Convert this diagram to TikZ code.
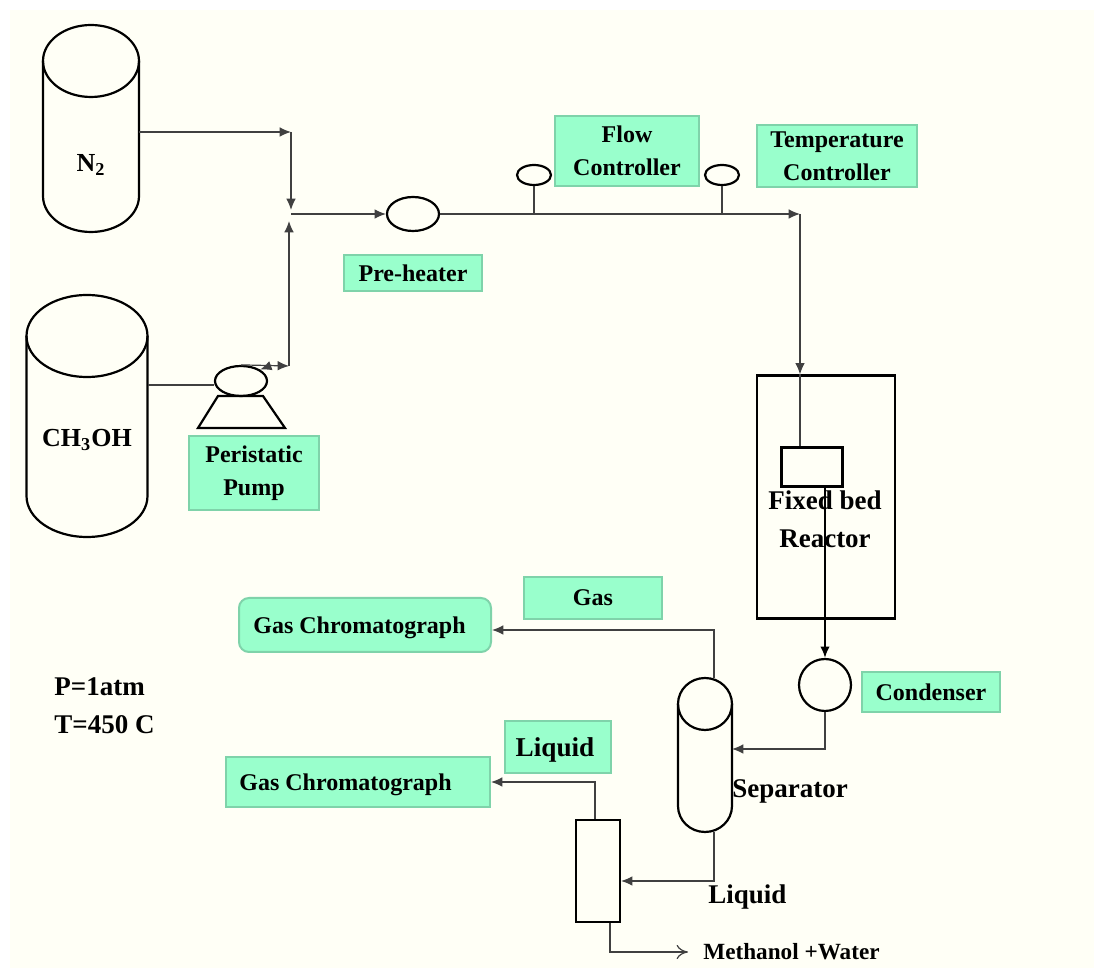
\documentclass[tikz,border=0pt]{standalone}
\usepackage{fontspec}
\setmainfont{Liberation Serif}
\usepackage{xcolor}
\usetikzlibrary{arrows.meta,shapes.geometric}
\definecolor{paper}{HTML}{FFFFF6}
\definecolor{tagfill}{HTML}{99FFCC}
\definecolor{tagedge}{HTML}{7FD3AA}
\newcommand{\tankshell}[5]{%
  \draw[vessel] (#1,{#2+#5}) ellipse [x radius=#4,y radius=#5];
  \draw[vessel] ({#1-#4},{#2+#5}) -- ({#1-#4},{#3-#5})
    arc [start angle=180,end angle=0,x radius=#4,y radius=#5] -- ({#1+#4},{#2+#5});
}

\begin{document}
\begin{tikzpicture}[
  x=0.5pt,y=-0.5pt,
  tag/.style={draw=tagedge,line width=1pt,fill=tagfill,font=\bfseries\fontsize{12}{16.5}\selectfont,
              align=center,inner sep=0pt},
  bare/.style={font=\bfseries\fontsize{13.5}{19}\selectfont,align=center,inner sep=0pt},
  vessel/.style={draw,line width=1.1pt,inner sep=0pt},
  flow/.style={-{Latex[length=2mm,width=1.7mm]},line width=0.6pt,black!75},
  pipe/.style={line width=0.6pt,black!75}
]
\fill[white] (0,0) rectangle (1094,972);
\fill[paper] (10,10) rectangle (1094,968);
% tanks and vessels
\tankshell{91}{25}{232}{48}{36}
\tankshell{87}{295}{537}{60.5}{41}
\tankshell{705}{678}{832}{27}{26}
\node[bare,font=\bfseries\fontsize{13}{15}\selectfont] (nitrogen) at (91,165) {N\textsubscript{2}};
\node[bare,font=\bfseries\fontsize{13}{15}\selectfont] (methanol) at (87,440) {CH\textsubscript{3}OH};
\node[minimum width=27pt,minimum height=77pt,inner sep=0pt] (separator) at (705,755) {};
\node[vessel,ellipse,minimum width=26pt,minimum height=17pt] (heater) at (413,214) {};
\node[vessel,ellipse,minimum width=17pt,minimum height=10pt] (gaugea) at (534,175) {};
\node[vessel,ellipse,minimum width=17pt,minimum height=10pt] (gaugeb) at (722,175) {};
\node[vessel,ellipse,minimum width=26pt,minimum height=15pt] (pump) at (241,381) {};
\draw[vessel] (218,396) -- (263,396) -- (285,428) -- (198,428) -- cycle;
\node[vessel,minimum width=69pt,minimum height=121.5pt] (reactor) at (826,497) {};
\node[vessel,minimum width=30.5pt,minimum height=19.5pt] (bed) at (812,467) {};
\node[vessel,circle,minimum size=26pt] (condenser) at (825,685) {};
\node[vessel,minimum width=22pt,minimum height=51pt] (trap) at (598,871) {};
% labels
\node[bare] (reactortext) at (825,519) {Fixed bed\\Reactor};
\node[tag,minimum width=69pt,minimum height=18pt] (heatertag) at (413,273) {Pre-heater};
\node[tag,minimum width=72pt,minimum height=35pt] (flowtag) at (627,151) {Flow\\Controller};
\node[tag,minimum width=80pt,minimum height=31pt] (temptag) at (837,156) {Temperature\\Controller};
\node[tag,minimum width=65pt,minimum height=37pt] (pumptag) at (254,473) {Peristatic\\Pump};
\node[tag,minimum width=69pt,minimum height=21pt] (gastag) at (593,598) {Gas};
\node[tag,minimum width=53pt,minimum height=26pt,text depth=0pt,font=\bfseries\fontsize{13.6}{16}\selectfont] (liquidtag) at (558,747) {Liquid\hspace*{3pt}};
\node[tag,rounded corners=5pt,minimum width=126pt,minimum height=27pt,text depth=0pt] (gcgas) at (365,625) {Gas Chromatograph\hspace*{5.5pt}};
\node[tag,minimum width=132pt,minimum height=25pt,text depth=0pt] (gcliquid) at (358,782) {Gas Chromatograph\hspace*{12.5pt}};
\node[tag,minimum width=69pt,minimum height=20pt] (condensertag) at (931,692) {Condenser};
\node[bare,anchor=west] (sepname) at (732,791) {Separator};
\node[bare,anchor=west] (liquidname) at (708,897) {Liquid};
\node[bare,anchor=west,font=\bfseries\fontsize{11.6}{12}\selectfont] (product) at (703,952) {Methanol +Water};
\node[bare,anchor=west,align=left] (conditions) at (54,706) {P=1atm\\T=450 C};
% joints
\coordinate (nitrogenout) at (139,132);
\coordinate (methanolout) at (148,385);
\coordinate (feedtop) at (291,132);
\coordinate (feedmid) at (291,214);
\coordinate (feedlow) at (289,221);
\coordinate (feedbot) at (289,366);
\coordinate (pumpin) at (270,366);
\coordinate (feedout) at (800,214);
\coordinate (gasturn) at (714,630);
\coordinate (liquidturn) at (595,782);
\coordinate (sepfoot) at (714,881);
\coordinate (sepinlet) at (732,749);
\coordinate (trapturn) at (610,952);
\coordinate (productend) at (688,952);
% pipes
\draw[flow] (nitrogenout) -- (feedtop);
\draw[flow] (feedtop) -- ([yshift=2pt]feedmid);
\draw[flow] (feedbot) -- (feedlow);
\draw[flow] (feedmid) -- (heater.west);
\draw[flow] (heater.east) -- (feedout);
\draw[flow] (feedout) -- (reactor.north -| feedout);
\draw[pipe] (reactor.north -| feedout) -- (bed.north -| feedout);
\draw[pipe] (gaugea.south) -- (gaugea.south |- feedout);
\draw[pipe] (gaugeb.south) -- (gaugeb.south |- feedout);
\draw[pipe] (methanolout) -- (pump.west |- methanolout);
\draw[flow] (pump.north) -- (feedbot);
\draw[flow] (pumpin) -- (pump.north east);
\draw[flow,line width=1pt,black] (bed.south -| condenser.north) -- (condenser.north);
\draw[flow] (condenser.south) |- (sepinlet);
\draw[flow] (separator.north -| gasturn) -- (gasturn) -- (gcgas.east |- gasturn);
\draw[flow] (trap.north -| liquidturn) -- (liquidturn) -- (gcliquid.east |- liquidturn);
\draw[flow] (separator.south -| sepfoot) -- (sepfoot) -- (trap.east |- sepfoot);
\draw[-{To[length=2mm,width=2.5mm]},pipe] (trap.south -| trapturn) -- (trapturn) -- (productend);
\end{tikzpicture}
\end{document}
